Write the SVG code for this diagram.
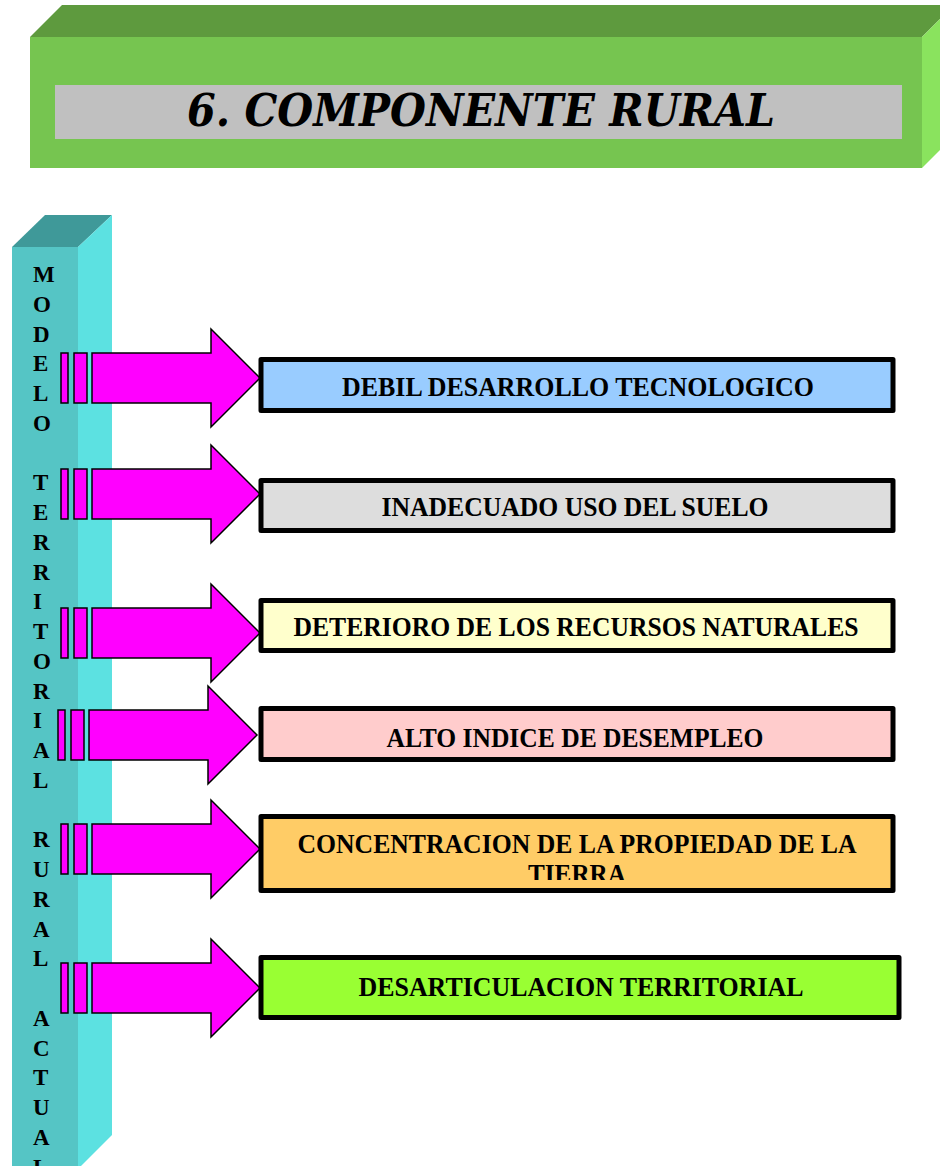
<svg xmlns="http://www.w3.org/2000/svg" xmlns:xlink="http://www.w3.org/1999/xlink" width="940" height="1166" viewBox="0 0 940 1166">
  <style>
    .box { stroke: #000; stroke-width: 5; stroke-linejoin: round; }
    .lbl { font-family: "Liberation Serif", "Times New Roman", serif; font-weight: bold; font-size: 26.5px; fill: #000; text-anchor: middle; }
    .col { font-family: "Liberation Serif", "Times New Roman", serif; font-weight: bold; font-size: 23px; fill: #000; }
    .title { font-family: "DejaVu Serif", serif; font-weight: bold; font-style: italic; font-size: 44px; fill: #000; text-anchor: middle; }
    .arr { fill: #FF00FF; stroke: #000; stroke-width: 1.5; stroke-linejoin: miter; }
  </style>
  <defs>
    <g id="arrow">
      <rect class="arr" x="61" y="-25" width="7" height="50"/>
      <rect class="arr" x="74" y="-25" width="13" height="50"/>
      <polygon class="arr" points="92,-25 211,-25 211,-49 260,0 211,49 211,25 92,25"/>
    </g>
    <clipPath id="clip5">
      <rect x="262" y="816" width="630" height="64"/>
    </clipPath>
  </defs>
  <rect width="940" height="1166" fill="#FFFFFF"/>

  <g id="header">
    <polygon points="30,37 62,5 954,5 922,37" fill="#5E9A3E"/>
    <polygon points="922,37 954,5 954,136 922,168" fill="#8AE35E"/>
    <rect x="30" y="37" width="892" height="131" fill="#76C550"/>
    <rect x="55" y="85" width="847" height="54" fill="#C0C0C0"/>
    <text class="title" x="481" y="126" textLength="588" lengthAdjust="spacingAndGlyphs">6. COMPONENTE RURAL</text>
  </g>

  <g id="column">
    <polygon points="12,247 45,215 112,215 78,247" fill="#3F9999"/>
    <polygon points="78,247 112,215 112,1135 78,1169" fill="#5CE1E1"/>
    <rect x="12" y="247" width="66" height="925" fill="#55C5C5"/>
    <text class="col">
      <tspan x="33" y="282">M</tspan>
      <tspan x="33" y="311.75">O</tspan>
      <tspan x="33" y="341.5">D</tspan>
      <tspan x="33" y="371.25">E</tspan>
      <tspan x="33" y="401">L</tspan>
      <tspan x="33" y="430.75">O</tspan>
      <tspan x="33" y="490.25">T</tspan>
      <tspan x="33" y="520">E</tspan>
      <tspan x="33" y="549.75">R</tspan>
      <tspan x="33" y="579.5">R</tspan>
      <tspan x="33" y="609.25">I</tspan>
      <tspan x="33" y="639">T</tspan>
      <tspan x="33" y="668.75">O</tspan>
      <tspan x="33" y="698.5">R</tspan>
      <tspan x="33" y="728.25">I</tspan>
      <tspan x="33" y="758">A</tspan>
      <tspan x="33" y="787.75">L</tspan>
      <tspan x="33" y="847.25">R</tspan>
      <tspan x="33" y="877">U</tspan>
      <tspan x="33" y="906.75">R</tspan>
      <tspan x="33" y="936.5">A</tspan>
      <tspan x="33" y="966.25">L</tspan>
      <tspan x="33" y="1025.75">A</tspan>
      <tspan x="33" y="1055.5">C</tspan>
      <tspan x="33" y="1085.25">T</tspan>
      <tspan x="33" y="1115">U</tspan>
      <tspan x="33" y="1144.75">A</tspan>
      <tspan x="33" y="1174.5">L</tspan>
    </text>
  </g>

  <g id="connectors">
    <use xlink:href="#arrow" href="#arrow" transform="translate(0,378)"/>
    <use xlink:href="#arrow" href="#arrow" transform="translate(0,494)"/>
    <use xlink:href="#arrow" href="#arrow" transform="translate(0,633)"/>
    <use xlink:href="#arrow" href="#arrow" transform="translate(-3,735)"/>
    <use xlink:href="#arrow" href="#arrow" transform="translate(0,849)"/>
    <use xlink:href="#arrow" href="#arrow" transform="translate(0,988)"/>
  </g>

  <g id="box1">
    <rect class="box" x="261" y="359.5" width="632" height="51" fill="#99CCFF"/>
    <text class="lbl" x="578" y="396" textLength="472" lengthAdjust="spacingAndGlyphs">DEBIL DESARROLLO TECNOLOGICO</text>
  </g>
  <g id="box2">
    <rect class="box" x="261" y="480.5" width="632" height="50" fill="#DDDDDD"/>
    <text class="lbl" x="575" y="516" textLength="387" lengthAdjust="spacingAndGlyphs">INADECUADO USO DEL SUELO</text>
  </g>
  <g id="box3">
    <rect class="box" x="261" y="600.5" width="632" height="50" fill="#FFFFCC"/>
    <text class="lbl" x="576" y="636" textLength="565" lengthAdjust="spacingAndGlyphs">DETERIORO DE LOS RECURSOS NATURALES</text>
  </g>
  <g id="box4">
    <rect class="box" x="261" y="708.5" width="632" height="51" fill="#FFCCCC"/>
    <text class="lbl" x="575" y="747" textLength="377" lengthAdjust="spacingAndGlyphs">ALTO INDICE DE DESEMPLEO</text>
  </g>
  <g id="box5">
    <rect class="box" x="261" y="816.5" width="632" height="74" fill="#FFCC66"/>
    <g clip-path="url(#clip5)">
      <text class="lbl" x="577" y="853" textLength="559" lengthAdjust="spacingAndGlyphs">CONCENTRACION DE LA PROPIEDAD DE LA</text>
      <text class="lbl" x="577" y="883" textLength="98" lengthAdjust="spacingAndGlyphs">TIERRA</text>
    </g>
  </g>
  <g id="box6">
    <rect class="box" x="261" y="957.5" width="638" height="60" fill="#99FF33"/>
    <text class="lbl" x="581" y="996" textLength="445" lengthAdjust="spacingAndGlyphs">DESARTICULACION TERRITORIAL</text>
  </g>
</svg>
